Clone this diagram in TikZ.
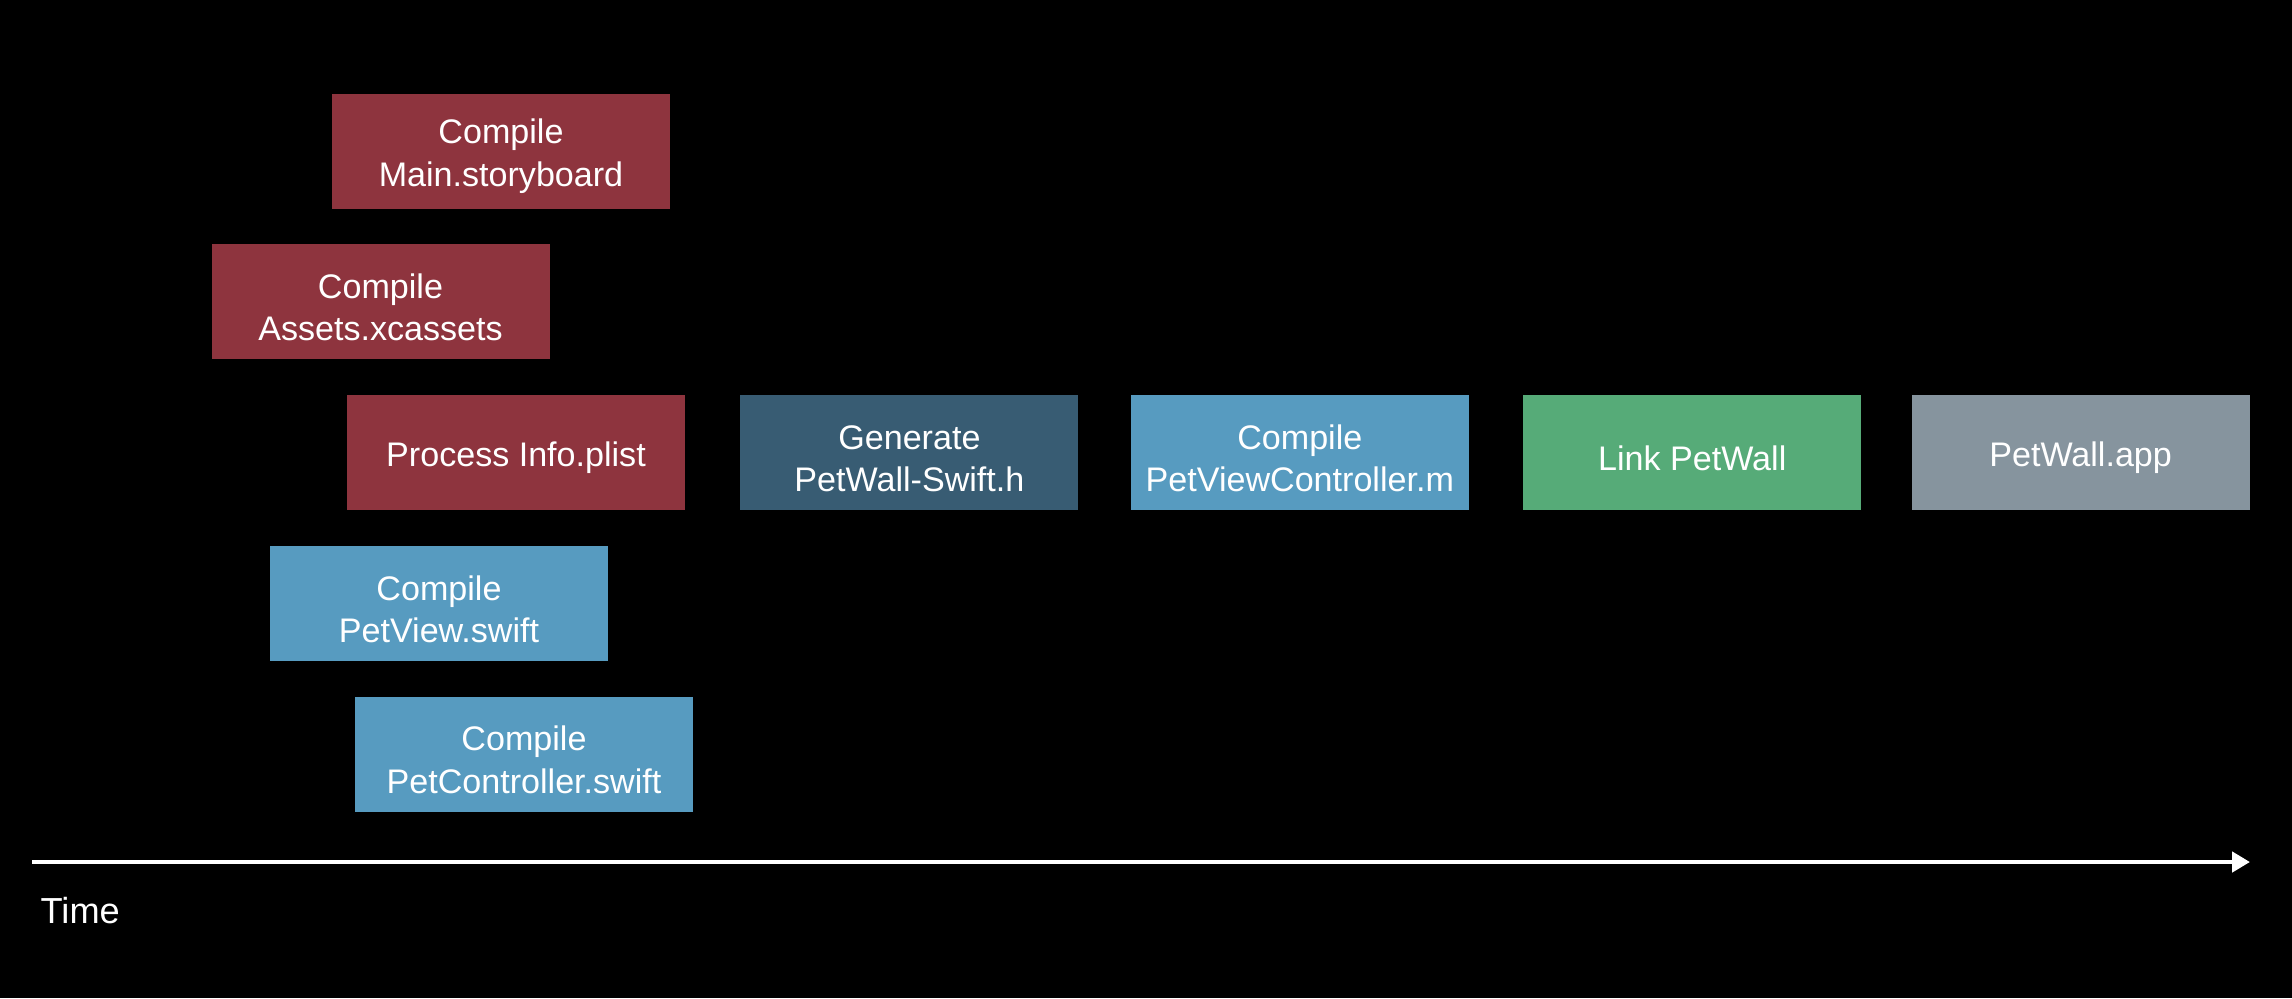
\documentclass[tikz,border=0pt]{standalone}
\usepackage{fontspec}
\setmainfont{Liberation Sans}
\usetikzlibrary{positioning,arrows.meta}
\definecolor{taskred}{RGB}{142,52,62}
\definecolor{taskdark}{RGB}{56,92,115}
\definecolor{taskblue}{RGB}{87,155,192}
\definecolor{taskgreen}{RGB}{86,171,120}
\definecolor{taskgray}{RGB}{134,148,158}
\tikzset{node distance=0.345cm and 0.51cm,
  task/.style={rectangle,text width=3.38cm,minimum height=1.15cm,inner sep=0pt,align=flush center,text=white,font=\fontsize{9.7}{12}\selectfont,execute at begin node={\rule{0pt}{10pt}}},
  redtask/.style={task,fill=taskred}, darktask/.style={task,fill=taskdark},
  bluetask/.style={task,fill=taskblue}, greentask/.style={task,fill=taskgreen},
  graytask/.style={task,fill=taskgray},
  timeline/.style={draw=white,line width=1.4pt,-{Triangle[length=0.18cm,width=0.2cm]}}}
\begin{document}
\begin{tikzpicture}
				\fill[black] (0,0) rectangle (22.92,-9.98);
				\useasboundingbox (0,0) rectangle (22.92,-9.98);

				\node[redtask] (main) at (5.01,-1.51) {Compile\\Main.storyboard};
				\node[redtask] (assets) [below=of main,xshift=-1.205cm] {Compile\\Assets.xcassets};
				\node[redtask] (plist) [below=of assets,xshift=1.355cm] {Process Info.plist};
				\node[bluetask] (petview) [below=of plist,xshift=-0.77cm] {Compile\\PetView.swift};
				\node[bluetask] (petctrl) [below=of petview,xshift=0.85cm] {Compile\\PetController.swift};

				\node[darktask] (header) [right=0.54cm of plist] {Generate\\PetWall-Swift.h};
				\node[bluetask] (objc) [right=0.51cm of header] {Compile\\PetViewController.m};
				\node[greentask] (link) [right=0.53cm of objc] {Link PetWall};
				\node[graytask] (app) [right=0.49cm of link] {PetWall.app};

				\coordinate (t0) at (0.32,-8.62);
				\coordinate (t1) at (22.50,-8.62);
				\path[timeline] (t0) -- (t1);
				\node[anchor=base west,inner sep=0pt,text=white,font=\fontsize{10.3}{12}\selectfont] (time) at (0.40,-9.23) {Time};
			\end{tikzpicture}
\end{document}
